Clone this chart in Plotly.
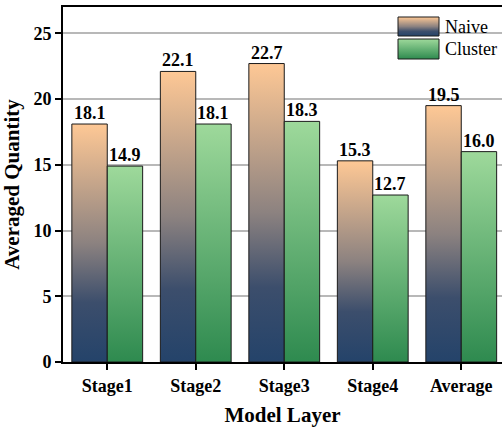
import plotly.graph_objects as go

# ---- data ----
categories = ["Stage1", "Stage2", "Stage3", "Stage4", "Average"]
naive = [18.1, 22.1, 22.7, 15.3, 19.5]
cluster = [14.9, 18.1, 18.3, 12.7, 16.0]
series_names = ["Naive", "Cluster"]
y_ticks = [0, 5, 10, 15, 20, 25]

# ---- styling ----
NAIVE_SCALE = [[0.0, "#24436a"], [0.25, "#3c4e6c"], [0.5, "#8c8280"], [1.0, "#fec895"]]
CLUSTER_SCALE = [[0.0, "#2e8a4f"], [1.0, "#9ed99b"]]
SCALES = [NAIVE_SCALE, CLUSTER_SCALE]
EDGE = "#1a1a1a"
SERIF = "Liberation Serif, Times New Roman, serif"
BAR_W = 0.4          # width of one bar, in category units

W, H = 502, 428
M_L, M_R, M_T, M_B = 63, 0, 7, 66
PW, PH = W - M_L - M_R, H - M_T - M_B

fig = go.Figure()

# gradient-filled bars, one closed polygon per bar
for j, vals in enumerate([naive, cluster]):
    for i, v in enumerate(vals):
        left = i - BAR_W + j * BAR_W
        right = left + BAR_W
        fig.add_trace(go.Scatter(
            x=[left, left, right, right, left],
            y=[0, v, v, 0, 0],
            mode="lines",
            fill="toself",
            fillgradient=dict(type="vertical", colorscale=SCALES[j]),
            line=dict(color=EDGE, width=1),
            showlegend=False,
            hoverinfo="skip",
        ))
        fig.add_annotation(
            x=(left + right) / 2, y=v, text=f"<b>{v:.1f}</b>",
            showarrow=False, yanchor="bottom", yshift=-1,
            font=dict(family=SERIF, size=18, color="black"),
        )

# legend drawn on a pixel-scaled overlay axis pair
LEG_X0, LEG_X1 = 335, 376
LEG_ROWS = [(326, 345), (303, 323)]
for k, name in enumerate(series_names):
    y0, y1 = LEG_ROWS[k]
    fig.add_trace(go.Scatter(
        x=[LEG_X0, LEG_X0, LEG_X1, LEG_X1, LEG_X0],
        y=[y0, y1, y1, y0, y0],
        xaxis="x2", yaxis="y2",
        mode="lines", fill="toself",
        fillgradient=dict(type="vertical", colorscale=SCALES[k]),
        line=dict(color=EDGE, width=1),
        showlegend=False, hoverinfo="skip",
    ))
    fig.add_annotation(
        x=LEG_X1 + 4, y=(y0 + y1) / 2, xref="x2", yref="y2",
        text=name, showarrow=False, xanchor="left", yanchor="middle",
        font=dict(family=SERIF, size=18, color="black"),
    )

fig.update_layout(
    width=W, height=H,
    margin=dict(l=M_L, r=M_R, t=M_T, b=M_B),
    plot_bgcolor="white", paper_bgcolor="white",
    showlegend=False,
    font=dict(family=SERIF, color="black"),
    xaxis=dict(
        range=[-0.5, -0.5 + PW / 88.5],
        tickmode="array", tickvals=list(range(len(categories))),
        ticktext=[f"<b>{c}</b>" for c in categories],
        showgrid=False, zeroline=False,
        showline=True, linecolor="black", linewidth=2, mirror=True,
        ticks="outside", ticklen=6, tickwidth=1.5, tickcolor="black",
        tickfont=dict(family=SERIF, size=18),
        title=dict(text="<b>Model Layer</b>", font=dict(family=SERIF, size=21), standoff=13),
    ),
    yaxis=dict(
        range=[0, 27],
        tickmode="array", tickvals=y_ticks,
        ticktext=[f"<b>{t}</b>" for t in y_ticks],
        showgrid=True, gridcolor="#b8b8b8", gridwidth=1.5,
        zeroline=False,
        showline=True, linecolor="black", linewidth=2,
        ticks="outside", ticklen=6, tickwidth=1.5, tickcolor="black",
        tickfont=dict(family=SERIF, size=18),
        title=dict(text="<b>Averaged Quantity</b>", font=dict(family=SERIF, size=21), standoff=9),
    ),
    xaxis2=dict(range=[0, PW], overlaying="x", visible=False, anchor="y2"),
    yaxis2=dict(range=[0, PH], overlaying="y", visible=False, anchor="x2"),
)

fig.write_html("out.html")
